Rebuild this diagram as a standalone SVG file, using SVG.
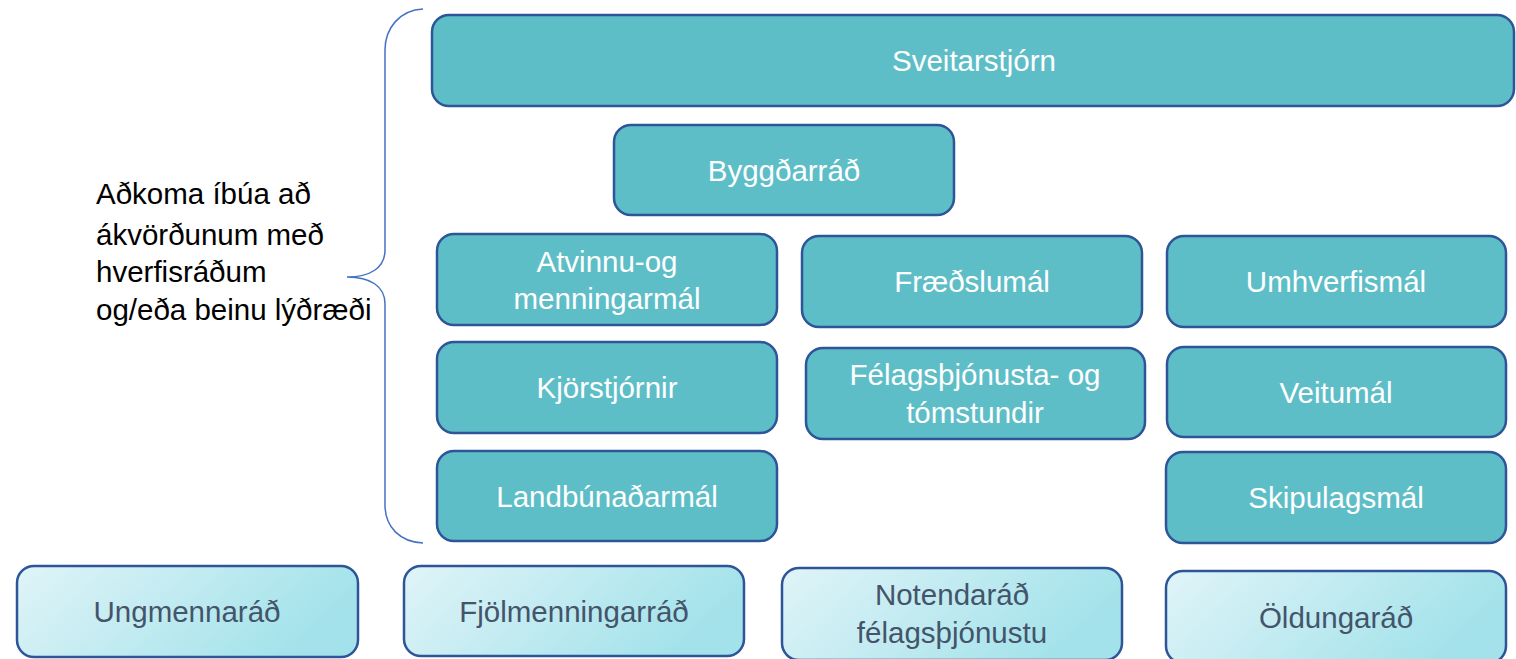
<svg xmlns="http://www.w3.org/2000/svg" width="1516" height="659" viewBox="0 0 1516 659">
<defs>
<linearGradient id="lg" x1="0" y1="0" x2="1" y2="0.3">
<stop offset="0" stop-color="#E0F4F8"/>
<stop offset="1" stop-color="#A3E2EA"/>
</linearGradient>
</defs>
<style>
.b{fill:#5EBEC7;stroke:#2E5597;stroke-width:2.5}
.l{fill:url(#lg);stroke:#2E5597;stroke-width:2.5}
.t{font-family:"Liberation Sans",Arial,sans-serif;font-size:29.5px;fill:#FFFFFF;text-anchor:middle}
.d{font-family:"Liberation Sans",Arial,sans-serif;font-size:29.5px;fill:#44546A;text-anchor:middle}
.k{font-family:"Liberation Sans",Arial,sans-serif;font-size:29.5px;fill:#000000}
</style>
<rect width="1516" height="659" fill="#FFFFFF"/>
<g id="connectors">
<path d="M423,9 C400,10 385,28 385,50 L385,250 C385,268 370,277 347,277 C370,277 385,286 385,304 L385,505 C385,527 400,542 423,543" fill="none" stroke="#4472C4" stroke-width="1.5"/>
</g>
<g id="label">
<text class="k" x="96" y="204">Aðkoma íbúa að</text>
<text class="k" x="96" y="245">ákvörðunum með</text>
<text class="k" x="96" y="282">hverfisráðum</text>
<text class="k" x="96" y="320">og/eða beinu lýðræði</text>
</g>
<g id="sveitarstjorn"><rect class="b" x="432" y="15" width="1082" height="91" rx="17"/><text class="t" x="974" y="71">Sveitarstjórn</text></g>
<g id="byggdarrad"><rect class="b" x="614" y="125" width="340" height="90" rx="17"/><text class="t" x="784" y="181">Byggðarráð</text></g>
<g id="atvinnu"><rect class="b" x="437" y="234" width="340" height="91" rx="17"/><text class="t" x="607" y="272">Atvinnu-og</text><text class="t" x="607" y="309">menningarmál</text></g>
<g id="fraedslumal"><rect class="b" x="802" y="236" width="340" height="91" rx="17"/><text class="t" x="972" y="292">Fræðslumál</text></g>
<g id="umhverfismal"><rect class="b" x="1167" y="236" width="339" height="91" rx="17"/><text class="t" x="1336" y="292">Umhverfismál</text></g>
<g id="kjorstjornir"><rect class="b" x="437" y="342" width="340" height="91" rx="17"/><text class="t" x="607" y="398">Kjörstjórnir</text></g>
<g id="felagsthjonusta"><rect class="b" x="806" y="348" width="339" height="91" rx="17"/><text class="t" x="975" y="385">Félagsþjónusta- og</text><text class="t" x="975" y="423">tómstundir</text></g>
<g id="veitumal"><rect class="b" x="1167" y="347" width="339" height="90" rx="17"/><text class="t" x="1336" y="403">Veitumál</text></g>
<g id="landbunadarmal"><rect class="b" x="437" y="451" width="340" height="90" rx="17"/><text class="t" x="607" y="507">Landbúnaðarmál</text></g>
<g id="skipulagsmal"><rect class="b" x="1166" y="452" width="340" height="91" rx="17"/><text class="t" x="1336" y="508">Skipulagsmál</text></g>
<g id="ungmennarad"><rect class="l" x="17" y="566" width="341" height="91" rx="17"/><text class="d" x="187" y="622">Ungmennaráð</text></g>
<g id="fjolmenningarrad"><rect class="l" x="404" y="566" width="340" height="90" rx="17"/><text class="d" x="574" y="622">Fjölmenningarráð</text></g>
<g id="notendarad"><rect class="l" x="782" y="568" width="340" height="92" rx="17"/><text class="d" x="952" y="605">Notendaráð</text><text class="d" x="952" y="643">félagsþjónustu</text></g>
<g id="oldungarad"><rect class="l" x="1166" y="571" width="340" height="92" rx="17"/><text class="d" x="1336" y="628">Öldungaráð</text></g>
</svg>
